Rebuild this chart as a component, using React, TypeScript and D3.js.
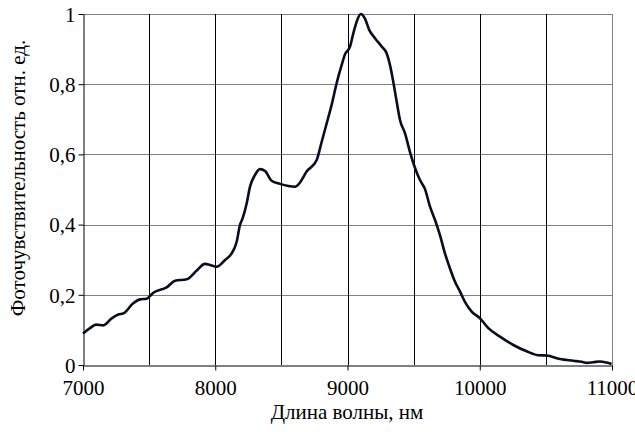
import { useEffect, useRef } from 'react';
import * as d3 from 'd3';

// wavelength, nm
const wavelength = [
  7000, 7053, 7098, 7154, 7217, 7267, 7305, 7380, 7431, 7481, 7532, 7632, 7696, 7784, 7860,
  7922, 7960, 8011, 8074, 8124, 8162, 8187, 8207, 8238, 8263, 8300, 8338, 8376, 8426, 8490,
  8552, 8603, 8641, 8691, 8767, 8805, 8843, 8880, 8918, 8956, 8981, 9019, 9044, 9074, 9100,
  9132, 9165, 9208, 9259, 9296, 9321, 9346, 9372, 9397, 9435, 9473, 9510, 9548, 9586, 9624,
  9662, 9699, 9737, 9775, 9813, 9851, 9888, 9939, 10002, 10065, 10153, 10254, 10355, 10443,
  10506, 10607, 10708, 10771, 10808, 10859, 10909, 10959, 10997,
];

// relative photosensitivity
const sensitivity = [
  0.09, 0.105, 0.115, 0.113, 0.133, 0.144, 0.147, 0.176, 0.187, 0.189, 0.206, 0.221, 0.24,
  0.244, 0.269, 0.288, 0.285, 0.28, 0.299, 0.318, 0.351, 0.399, 0.418, 0.461, 0.508, 0.541,
  0.558, 0.553, 0.525, 0.516, 0.51, 0.508, 0.52, 0.551, 0.584, 0.636, 0.689, 0.741, 0.803,
  0.855, 0.885, 0.907, 0.945, 0.983, 1.0, 0.987, 0.954, 0.931, 0.907, 0.888, 0.855, 0.807,
  0.75, 0.698, 0.66, 0.606, 0.562, 0.527, 0.501, 0.451, 0.413, 0.37, 0.318, 0.275, 0.237,
  0.209, 0.18, 0.152, 0.133, 0.105, 0.081, 0.057, 0.039, 0.028, 0.027, 0.017, 0.012, 0.009,
  0.006, 0.008, 0.01, 0.007, 0.003,
];

const xTicks = [7000, 8000, 9000, 10000, 11000];
const xGrid = [7500, 8000, 8500, 9000, 9500, 10000, 10500];
const yTicks = [0, 0.2, 0.4, 0.6, 0.8, 1];

const xTitle = 'Длина волны, нм';
const yTitle = 'Фоточувствительность отн. ед.';

function App() {
  const ref = useRef<SVGSVGElement>(null);

  useEffect(() => {
    const width = 635,
      height = 432;
    const left = 83,
      right = 612,
      top = 14,
      bottom = 365;
    const font = "'Liberation Serif', 'Times New Roman', 'DejaVu Serif', serif";

    const svg = d3.select(ref.current);
    svg.selectAll('*').remove();
    svg.attr('width', width).attr('height', height).style('font-family', font);

    const x = d3.scaleLinear().domain([7000, 11000]).range([left, right]);
    const y = d3.scaleLinear().domain([0, 1]).range([bottom, top]);

    // horizontal grid (gray)
    svg
      .append('g')
      .selectAll('line')
      .data(yTicks.filter((d) => d > 0))
      .join('line')
      .attr('x1', left)
      .attr('x2', right)
      .attr('y1', (d) => Math.round(y(d)) + 0.5)
      .attr('y2', (d) => Math.round(y(d)) + 0.5)
      .attr('stroke', '#808080')
      .attr('stroke-width', 1);

    // vertical grid (black)
    svg
      .append('g')
      .selectAll('line')
      .data(xGrid)
      .join('line')
      .attr('x1', (d) => Math.round(x(d)) + 0.5)
      .attr('x2', (d) => Math.round(x(d)) + 0.5)
      .attr('y1', top)
      .attr('y2', bottom)
      .attr('stroke', '#000')
      .attr('stroke-width', 1);

    // right border
    svg
      .append('line')
      .attr('x1', right + 0.5)
      .attr('x2', right + 0.5)
      .attr('y1', top)
      .attr('y2', bottom)
      .attr('stroke', '#808080');

    // axes
    const yAxis = svg
      .append('g')
      .attr('transform', `translate(${left + 0.5},0)`)
      .call(
        d3
          .axisLeft(y)
          .tickValues(yTicks)
          .tickSize(5)
          .tickSizeOuter(0)
          .tickPadding(3)
          .tickFormat((d) => String(d).replace('.', ',')),
      );
    const xAxis = svg
      .append('g')
      .attr('transform', `translate(0,${bottom + 0.5})`)
      .call(
        d3
          .axisBottom(x)
          .tickValues(xTicks)
          .tickSize(5)
          .tickSizeOuter(0)
          .tickPadding(9)
          .tickFormat((d) => String(d)),
      );
    [xAxis, yAxis].forEach((g) => {
      g.attr('font-family', null);
      g.selectAll('path').attr('stroke', '#000').attr('stroke-width', 1);
      g.selectAll('line').attr('stroke', '#000');
      g.selectAll('text')
        .style('font-family', font)
        .attr('font-size', 21)
        .attr('fill', '#000');
    });
    yAxis.selectAll('text').attr('dy', '0.35em');
    xAxis.selectAll('text').attr('dy', '0.72em');

    // curve
    const pts = wavelength.map((w, i) => [w, sensitivity[i]] as [number, number]);
    const line = d3
      .line<[number, number]>()
      .x((d) => x(d[0]))
      .y((d) => y(d[1]))
      .curve(d3.curveMonotoneX);

    svg
      .append('path')
      .datum(pts)
      .attr('fill', 'none')
      .attr('stroke', '#0b0b22')
      .attr('stroke-width', 2.6)
      .attr('stroke-linejoin', 'round')
      .attr('d', line);

    // titles
    svg
      .append('text')
      .attr('x', 347)
      .attr('y', 419)
      .attr('text-anchor', 'middle')
      .style('font-family', font)
      .attr('font-size', 21)
      .text(xTitle);

    svg
      .append('text')
      .attr('transform', `translate(25,178) rotate(-90)`)
      .attr('text-anchor', 'middle')
      .style('font-family', font)
      .attr('font-size', 21)
      .text(yTitle);
  }, []);

  return (
    <div style={{ position: 'absolute', left: 0, top: 0 }}>
      <svg ref={ref}></svg>
    </div>
  );
}

export default App;
